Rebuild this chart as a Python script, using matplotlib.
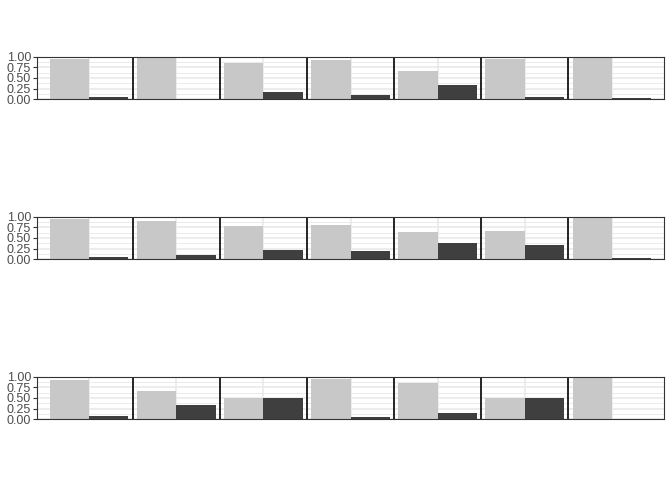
import matplotlib
matplotlib.use("Agg")
import matplotlib.pyplot as plt
import numpy as np

# Data: share of light (first) and dark (second) category per group, per row
groups = [1, 2, 3, 4, 5, 6, 7]
row1_light = [0.95, 1.00, 0.84, 0.91, 0.66, 0.95, 0.97]
row1_dark = [0.05, 0.00, 0.16, 0.09, 0.34, 0.05, 0.03]
row2_light = [0.95, 0.89, 0.78, 0.80, 0.63, 0.66, 0.97]
row2_dark = [0.05, 0.11, 0.22, 0.20, 0.37, 0.34, 0.03]
row3_light = [0.92, 0.67, 0.50, 0.94, 0.85, 0.50, 1.00]
row3_dark = [0.08, 0.33, 0.50, 0.06, 0.15, 0.50, 0.00]
y_ticks = [0.0, 0.25, 0.5, 0.75, 1.0]
y_ticklabels = ["0.00", "0.25", "0.50", "0.75", "1.00"]

rows = [(row1_light, row1_dark), (row2_light, row2_dark), (row3_light, row3_dark)]

plt.rcParams['font.family'] = ['Liberation Sans', 'DejaVu Sans']

fig = plt.figure(figsize=(6.72, 4.8), dpi=100)
W, H = 672, 480
left_px, right_px = 37, 664
tops = [56.5, 216.5, 376.5]
ph = 42.8

LIGHT = '#c8c8c8'
DARK = '#3f3f3f'
GRID = '#e8e8e8'

bw = 0.45
x = np.array(groups, dtype=float)
for (light, dark), top in zip(rows, tops):
    ax = fig.add_axes([left_px / W, 1 - (top + ph) / H, (right_px - left_px) / W, ph / H])
    ax.set_xlim(0.4, 7.6)
    ax.set_ylim(0, 1)
    # grid
    for yv in [0.125, 0.375, 0.625, 0.875]:
        ax.axhline(yv, color=GRID, lw=0.6, zorder=0)
    for yv in y_ticks:
        ax.axhline(yv, color=GRID, lw=1.1, zorder=0)
    for xv in groups:
        ax.axvline(xv, color=GRID, lw=1.1, zorder=0)
    ax.bar(x - bw / 2, light, width=bw, color=LIGHT, zorder=2, linewidth=0)
    ax.bar(x + bw / 2, dark, width=bw, color=DARK, zorder=2, linewidth=0)
    for xv in groups[:-1]:
        ax.axvline(xv + 0.5, color='black', lw=1.2, zorder=3)
    ax.set_xticks([])
    ax.set_yticks(y_ticks)
    ax.set_yticklabels(y_ticklabels, fontsize=9, color='#4d4d4d')
    ax.tick_params(axis='y', length=2.7, width=0.8, color='#333333', pad=1.5)
    for s in ax.spines.values():
        s.set_color('#333333')
        s.set_linewidth(0.8)
        s.set_zorder(4)

fig.savefig('out.png', dpi=100)
